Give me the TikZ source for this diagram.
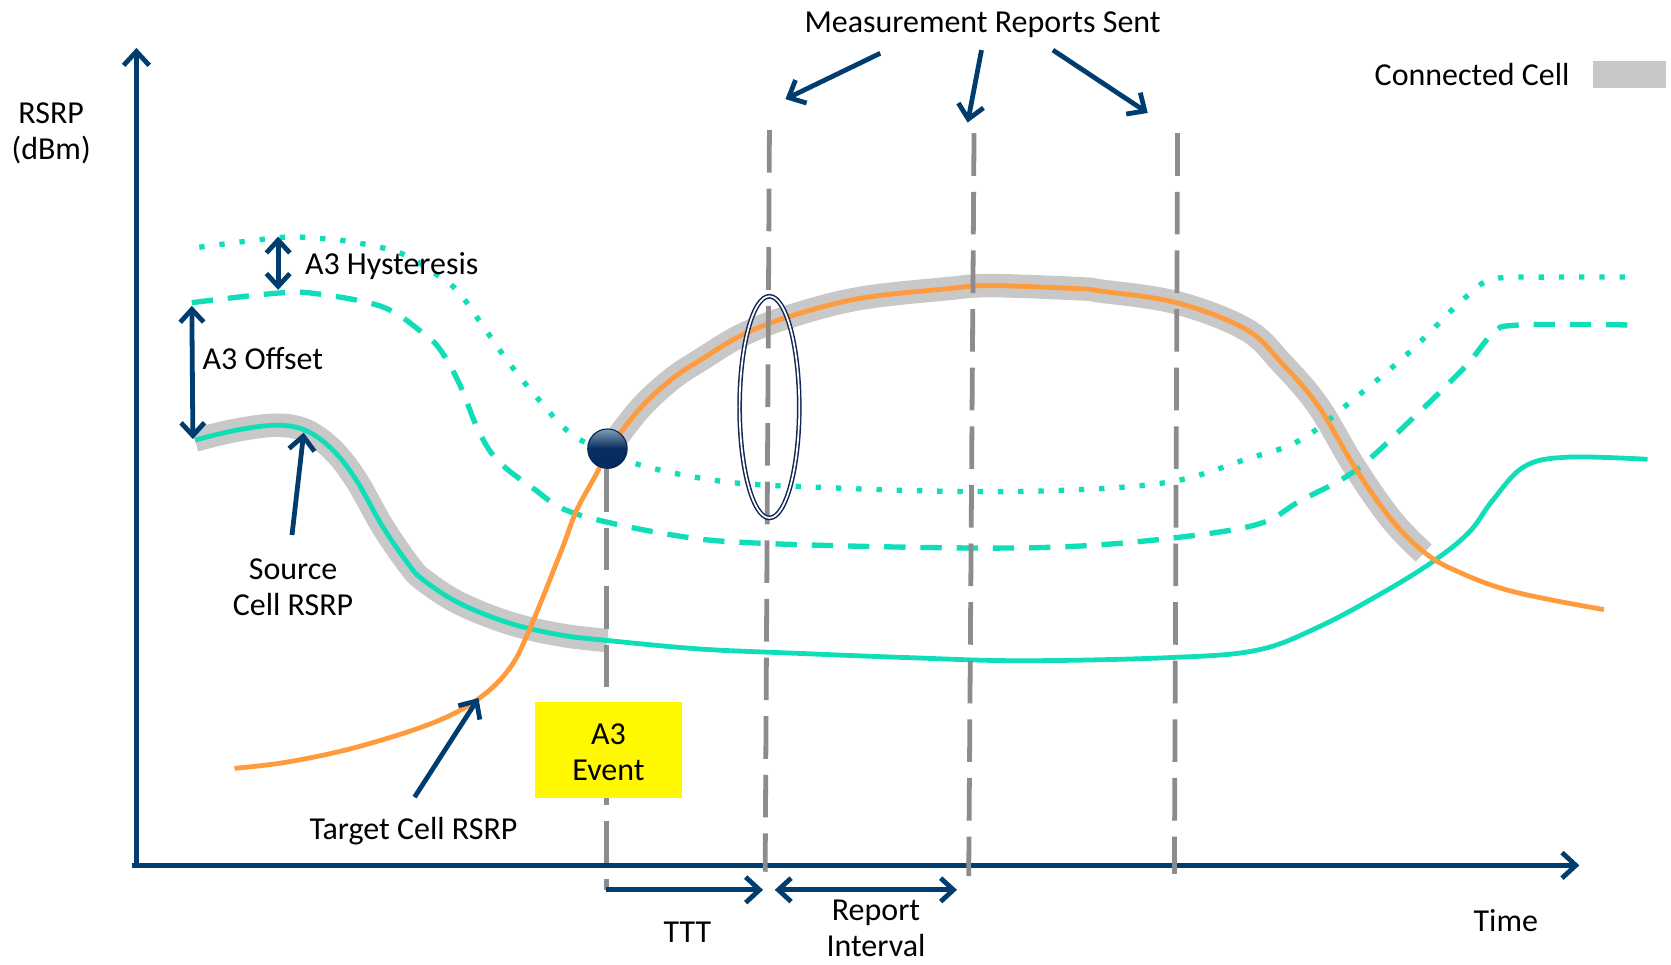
\documentclass[tikz,border=0pt]{standalone}
\usepackage{fontspec}
\setmainfont{Carlito}
\usetikzlibrary{arrows.meta}
\definecolor{navy}{RGB}{0,61,110}
\definecolor{tealc}{RGB}{16,222,185}
\definecolor{orng}{RGB}{255,155,60}
\definecolor{bandc}{RGB}{200,200,200}
\definecolor{vgray}{RGB}{140,140,140}
\definecolor{yel}{RGB}{255,248,0}
\definecolor{ballc}{RGB}{5,45,95}
\definecolor{ellc}{RGB}{15,40,85}
\begin{document}
\begin{tikzpicture}[x=1pt,y=-1pt,
  lbl/.style={font=\fontsize{30}{34}\selectfont, inner sep=0pt, align=center},
  barb/.style={-{Straight Barb[length=13pt,width=24pt]}},
  dbarb/.style={{Straight Barb[length=12pt,width=22pt]}-{Straight Barb[length=12pt,width=22pt]}},
  axisline/.style={draw=navy, line width=4.5pt, barb},
  pointer/.style={draw=navy, line width=4.5pt, barb},
  dimarrow/.style={draw=navy, line width=4.5pt},
  vline/.style={draw=vgray, line width=4.5pt, dash pattern=on 40pt off 15pt},
  bandline/.style={draw=bandc, line width=22pt},
  curve/.style={line width=4.5pt},
  offsetline/.style={draw=tealc, line width=5pt, dash pattern=on 20pt off 14pt},
  hystline/.style={draw=tealc, line width=5pt, dash pattern=on 5pt off 14pt}
]
\useasboundingbox (0,0) rectangle (1568,905);

% connected-cell bands
\draw[bandline] plot[smooth, tension=0.6] coordinates {(183,413) (220,404) (259,399) (287,404) (312,422) (334,450) (359,494) (383,529) (397,544) (431,566) (479,585) (527,596) (570,601)};
\draw[bandline] plot[smooth, tension=0.6] coordinates {(570,423) (600,384) (630,356) (657,338) (697,314) (744,296) (807,280) (888,271) (930,268) (1014,271) (1032,273) (1104,284) (1169,309) (1203,341) (1237,381) (1271,438) (1306,488) (1336,519)};

% threshold curves
\draw[offsetline] plot[smooth, tension=0.6] coordinates {(180,284) (261,275) (300,276) (359,288) (395,311) (413,328) (431,360) (449,404) (467,432) (500,458) (540,482) (637,503) (720,510) (889,514) (1000,513) (1099,505) (1180,492) (1220,470) (1271,442) (1323,395) (1374,345) (1401,313) (1425,305) (1534,305)};
\draw[hystline] plot[smooth, tension=0.6] coordinates {(187,232) (261,223) (290,223) (330,227) (377,238) (413,260) (431,275) (456,310) (478,341) (503,372) (531,403) (555,418) (603,437) (680,452) (762,457) (889,461) (1000,460) (1099,452) (1169,431) (1220,413) (1271,374) (1323,330) (1374,280) (1401,262) (1450,260) (1534,260)};

% source cell
\draw[curve, draw=tealc] plot[smooth, tension=0.6] coordinates {(183,413) (220,404) (259,399) (287,404) (312,422) (334,450) (359,494) (383,529) (397,544) (431,566) (479,585) (527,596) (570,601) (657,609) (747,613) (850,617) (959,620) (1099,617) (1180,610) (1238,588) (1296,557) (1343,528) (1378,500) (1401,469) (1430,438) (1470,429) (1546,431)};
% target cell
\draw[curve, draw=orng] plot[smooth, tension=0.6] coordinates {(220,721) (270,715) (335,701) (407,678) (450,655) (479,626) (498,588) (527,516) (541,479) (560,444) (570,423) (600,384) (630,356) (657,338) (697,314) (744,296) (807,280) (888,271) (930,268) (1014,271) (1032,273) (1104,284) (1169,309) (1203,341) (1237,381) (1271,438) (1306,488) (1340,521) (1374,539) (1412,553) (1456,563) (1505,572)};

% axes
\coordinate (O) at (128,812);
\coordinate (ytip) at (128,45);
\coordinate (xorg) at (124,812);
\coordinate (xtip) at (1482,812);
\draw[axisline] (O) -- (ytip);
\draw[axisline] (xorg) -- (xtip);

% vertical dashed lines
\coordinate (v0t) at (569,440); \coordinate (v0b) at (569,835);
\coordinate (v1t) at (722,122); \coordinate (v1b) at (718,818);
\coordinate (v2t) at (914,125); \coordinate (v2b) at (909,822);
\coordinate (v3t) at (1105,125); \coordinate (v3b) at (1102,820);
\draw[vline] (v0t) -- (v0b);
\draw[vline] (v1t) -- (v1b);
\draw[vline] (v2t) -- (v2b);
\draw[vline] (v3t) -- (v3b);

% TTT and report interval
\coordinate (ttte) at (716,835);
\coordinate (ris) at (727,835);
\coordinate (rie) at (898,835);
\draw[dimarrow, barb] (v0b) -- (ttte);
\draw[dimarrow, dbarb] (ris) -- (rie);

% ellipse around first report
\draw[draw=ellc, double=white, double distance=1.6pt, line width=1.4pt] (722,382) ellipse [x radius=28, y radius=104];

% A3 event point
\node[circle, minimum size=37pt, inner sep=0pt, draw=ballc!80!black, line width=1pt,
  top color=navy!50!white, bottom color=ballc, middle color=ballc] (ball) at (570,421) {};

% offset / hysteresis arrows
\coordinate (hyt) at (261,222); \coordinate (hyb) at (261,272);
\coordinate (oft) at (180,287); \coordinate (ofb) at (181,412);
\draw[dimarrow, dbarb] (hyt) -- (hyb);
\draw[dimarrow, dbarb] (oft) -- (ofb);

% labels
\node[lbl] (rsrp) at (48,125) {RSRP\\(dBm)};
\node[lbl] (mrs) at (922,23) {Measurement Reports Sent};
\node[lbl, anchor=east] (cc) at (1473,70) {Connected Cell};
\node[fill=bandc, minimum width=68pt, minimum height=25pt, inner sep=0pt] (ccbox) at (1529,70) {};
\node[lbl, anchor=west] (hyst) at (286,250) {A3 Hysteresis};
\node[lbl, anchor=west] (offs) at (190,336) {A3 Offset};
\node[lbl] (src) at (275,551) {Source\\Cell RSRP};
\node[lbl] (tgt) at (388,780) {Target Cell RSRP};
\node[lbl, fill=yel, minimum width=138pt, minimum height=90pt] (evt) at (571,704) {};
\node[lbl] (evttxt) at (571,706) {A3\\Event};
\node[lbl] (ttt) at (645,875) {TTT};
\node[lbl] (rint) at (822,871) {Report\\Interval};
\node[lbl] (time) at (1413,864) {Time};

% pointer arrows
\coordinate (m1s) at (826,50); \coordinate (m1e) at (737,93);
\coordinate (m2s) at (921,47); \coordinate (m2e) at (908,115);
\coordinate (m3s) at (988,47); \coordinate (m3e) at (1077,106);
\draw[pointer] (m1s) -- (m1e);
\draw[pointer] (m2s) -- (m2e);
\draw[pointer] (m3s) -- (m3e);
\coordinate (srcs) at (274,502); \coordinate (srce) at (285,406);
\coordinate (tgts) at (389,748); \coordinate (tgte) at (449,655);
\draw[pointer] (srcs) -- (srce);
\draw[pointer] (tgts) -- (tgte);
\end{tikzpicture}
\end{document}
